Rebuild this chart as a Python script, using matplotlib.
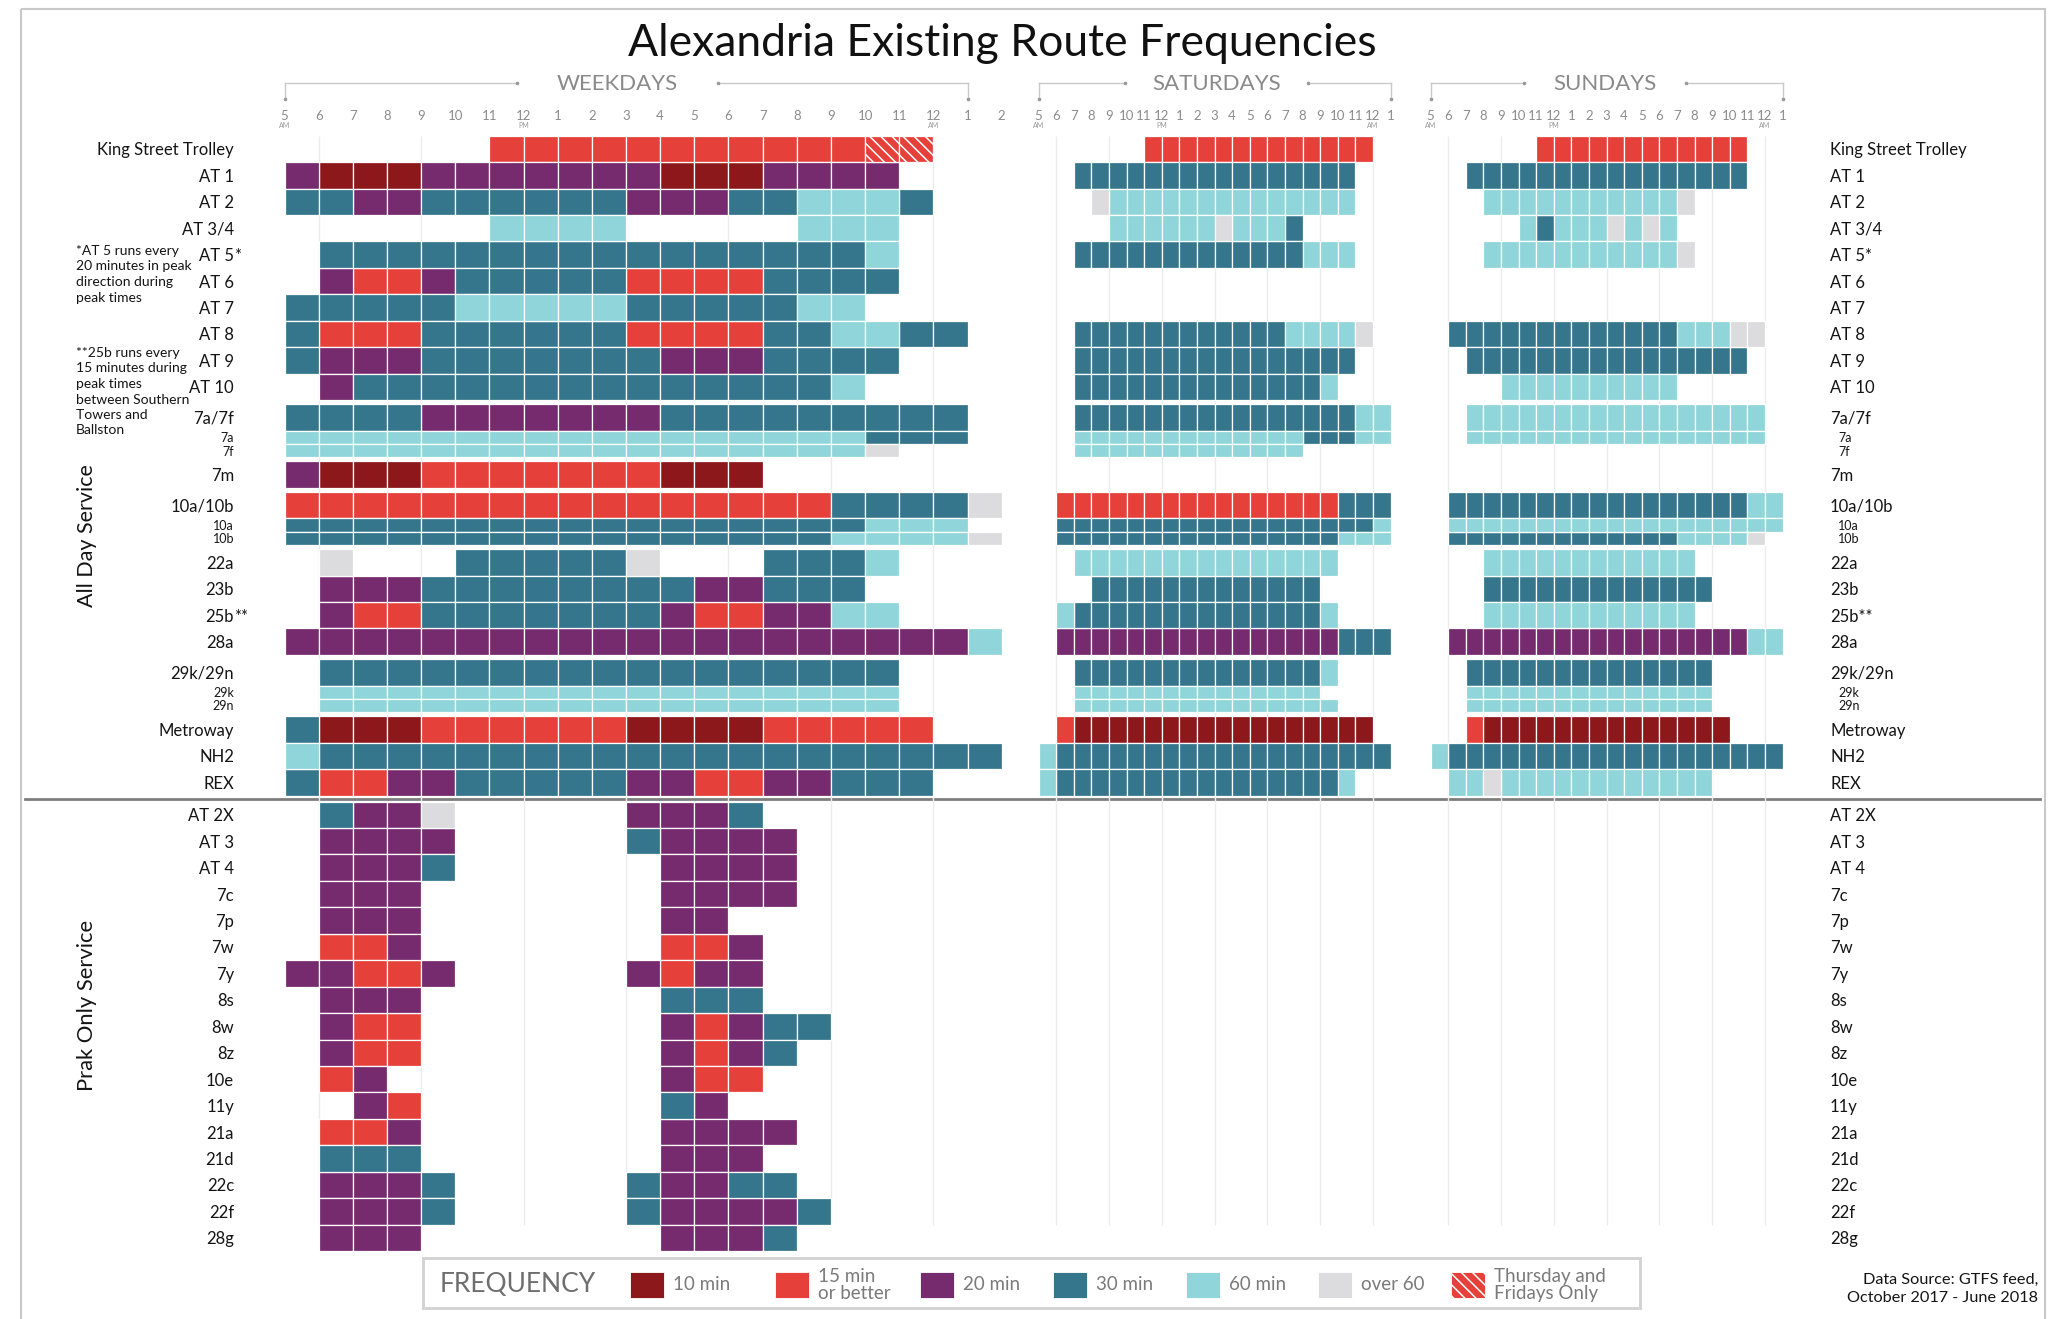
import matplotlib
matplotlib.use("Agg")
import matplotlib.pyplot as plt
from matplotlib.patches import Rectangle
from matplotlib.transforms import blended_transform_factory as blend

plt.rcParams["font.family"] = ["Lato", "DejaVu Sans"]
plt.rcParams["hatch.linewidth"] = 1.1

# --- data ---------------------------------------------------------------------
# one character per hour: 1=10 min, 2=15 min or better, 3=20 min, 4=30 min,
# 5=60 min, 6=over 60, 7=Thursday and Fridays only, '.'=no service
ALL_DAY_GROUPS = [
    ["King Street Trolley", "AT 1", "AT 2", "AT 3/4", "AT 5*", "AT 6", "AT 7",
     "AT 8", "AT 9", "AT 10"],
    ["7a/7f", "7a", "7f"],
    ["7m"],
    ["10a/10b", "10a", "10b"],
    ["22a", "23b", "25b**", "28a"],
    ["29k/29n", "29k", "29n"],
    ["Metroway", "NH2", "REX"],
]
PEAK_ONLY = ["AT 2X", "AT 3", "AT 4", "7c", "7p", "7w", "7y", "8s", "8w", "8z",
             "10e", "11y", "21a", "21d", "22c", "22f", "28g"]
SUB_ROUTES = ["7a", "7f", "10a", "10b", "29k", "29n"]

WEEKDAY_START = 5      # first cell = 5-6 AM, 21 cells
WEEKEND_START = 5      # 20 cells

WEEKDAY = {
    "King Street Trolley": "......2222222222277..",
    "AT 1":    "311133333331113333...",
    "AT 2":    "4433444444333445554..",
    "AT 3/4":  "......5555.....555...",
    "AT 5*":   ".44444444444444445...",
    "AT 6":    ".32234444422224444...",
    "AT 7":    "44444555554444455....",
    "AT 8":    "42224444442222445544.",
    "AT 9":    "433344444443334444...",
    "AT 10":   ".3444444444444445....",
    "7a/7f":   "44443333333444444444.",
    "7a":      "55555555555555555444.",
    "7f":      "555555555555555556...",
    "7m":      "31112222222111.......",
    "10a/10b": "222222222222222244446",
    "10a":     "44444444444444444555.",
    "10b":     "444444444444444455556",
    "22a":     ".6...444446...4445...",
    "23b":     ".3334444444433444....",
    "25b**":   ".32244444443223355...",
    "28a":     "333333333333333333335",
    "29k/29n": ".44444444444444444...",
    "29k":     ".55555555555555555...",
    "29n":     ".55555555555555555...",
    "Metroway": "4111222222111122222..",
    "NH2":     "544444444444444444444",
    "REX":     "4223344444332233444..",
    "AT 2X":   ".4336.....3334.......",
    "AT 3":    ".3333.....43333......",
    "AT 4":    ".3334......3333......",
    "7c":      ".333.......3333......",
    "7p":      ".333.......33........",
    "7w":      ".223.......223.......",
    "7y":      "33223.....3233.......",
    "8s":      ".333.......444.......",
    "8w":      ".322.......32344.....",
    "8z":      ".322.......3234......",
    "10e":     ".23........322.......",
    "11y":     "..32.......43........",
    "21a":     ".223.......3333......",
    "21d":     ".444.......333.......",
    "22c":     ".3334.....43344......",
    "22f":     ".3334.....433334.....",
    "28g":     ".333.......3334......",
}

SATURDAY = {
    "King Street Trolley": "......2222222222222.",
    "AT 1":    "..4444444444444444..",
    "AT 2":    "...655555555555555..",
    "AT 3/4":  "....55555565554.....",
    "AT 5*":   "..4444444444444555..",
    "AT 8":    "..44444444444455556.",
    "AT 9":    "..4444444444444444..",
    "AT 10":   "..444444444444445...",
    "7a/7f":   "..444444444444444455",
    "7a":      "..555555555555544455",
    "7f":      "..5555555555555.....",
    "10a/10b": ".2222222222222222444",
    "10a":     ".4444444444444444445",
    "10b":     ".4444444444444444555",
    "22a":     "..555555555555555...",
    "23b":     "...4444444444444....",
    "25b**":   ".5444444444444445...",
    "28a":     ".3333333333333333444",
    "29k/29n": "..444444444444445...",
    "29k":     "..55555555555555....",
    "29n":     "..555555555555555...",
    "Metroway": ".211111111111111111.",
    "NH2":     "54444444444444444444",
    "REX":     "544444444444444445..",
}

SUNDAY = {
    "King Street Trolley": "......222222222222..",
    "AT 1":    "..4444444444444444..",
    "AT 2":    "...555555555556.....",
    "AT 3/4":  ".....545556565......",
    "AT 5*":   "...555555555556.....",
    "AT 8":    ".444444444444455566.",
    "AT 9":    "..4444444444444444..",
    "AT 10":   "....5555555555......",
    "7a/7f":   "..55555555555555555.",
    "7a":      "..55555555555555555.",
    "10a/10b": ".4444444444444444455",
    "10a":     ".5555555555555555555",
    "10b":     ".444444444444455556.",
    "22a":     "...555555555555.....",
    "23b":     "...4444444444444....",
    "25b**":   "...555555555555.....",
    "28a":     ".3333333333333333355",
    "29k/29n": "..44444444444444....",
    "29k":     "..55555555555555....",
    "29n":     "..55555555555555....",
    "Metroway": "..211111111111111...",
    "NH2":     "54444444444444444444",
    "REX":     ".556555555555555....",
}

WEEKDAY_TICKS = ["5", "6", "7", "8", "9", "10", "11", "12", "1", "2", "3", "4",
                 "5", "6", "7", "8", "9", "10", "11", "12", "1", "2"]
WEEKEND_TICKS = ["5", "6", "7", "8", "9", "10", "11", "12", "1", "2", "3", "4",
                 "5", "6", "7", "8", "9", "10", "11", "12", "1"]

FREQ_CODES = ["1", "2", "3", "4", "5", "6", "7"]
FREQ_NAMES = ["10 min", "15 min\nor better", "20 min", "30 min", "60 min",
              "over 60", "Thursday and\nFridays Only"]

NOTE_AT5 = "*AT 5 runs every\n20 minutes in peak\ndirection during\npeak times"
NOTE_25B = ("**25b runs every\n15 minutes during\npeak times\nbetween Southern\n"
            "Towers and\nBallston")

COLORS = {"1": "#8c181b", "2": "#e6403a", "3": "#762b6e", "4": "#36768d",
          "5": "#90d5da", "6": "#dcdcde", "7": "#e6403a"}

for sched, n in ((WEEKDAY, 21), (SATURDAY, 20), (SUNDAY, 20)):
    for k, v in sched.items():
        assert len(v) == n, (k, len(v), n)

# --- layout -------------------------------------------------------------------
W, H = 2058, 1319
GRID_TOP, GRID_BOT = 135.7, 1251
GAP, SEP = 0.16, 0.23
INK = "#141414"

rows = []           # (label, top, height) in row units
y = 0.0
for gi, grp in enumerate(ALL_DAY_GROUPS):
    if gi:
        y += GAP
    for r in grp:
        h = 0.5 if r in SUB_ROUTES else 1.0
        rows.append((r, y, h))
        y += h
all_day_end = y
y += SEP
for r in PEAK_ONLY:
    rows.append((r, y, 1.0))
    y += 1.0
TOTAL = y

fig = plt.figure(figsize=(W / 100, H / 100), dpi=100)
over = fig.add_axes([0, 0, 1, 1])
over.set_xlim(0, W); over.set_ylim(H, 0); over.axis("off")


def panel(x0, px_per_hour, start, nhours):
    x1 = x0 + nhours * px_per_hour
    ax = fig.add_axes([x0 / W, 1 - GRID_BOT / H, (x1 - x0) / W, (GRID_BOT - GRID_TOP) / H])
    ax.set_xlim(start, start + nhours)
    ax.set_ylim(TOTAL, 0)
    ax.set_facecolor("none")
    for s in ax.spines.values():
        s.set_visible(False)
    return ax


axw = panel(284.5, 34.15, WEEKDAY_START, 21)
axs = panel(1038.5, 17.6, WEEKEND_START, 20)
axu = panel(1430.5, 17.6, WEEKEND_START, 20)


def draw_cells(ax, sched, start, ticks):
    for code in FREQ_CODES:
        xs, bots, hs = [], [], []
        for lab, top, h in rows:
            for i, c in enumerate(sched.get(lab, "")):
                if c == code:
                    xs.append(start + i); bots.append(top); hs.append(h)
        if xs:
            ax.bar(xs, hs, bottom=bots, width=1, align="edge", color=COLORS[code],
                   edgecolor="white", linewidth=0.9, zorder=2,
                   hatch="\\\\\\" if code == "7" else None)
    ax.vlines(range(6, 25, 3), 0, TOTAL - 1, color="#ebebeb", lw=1, zorder=0)
    ax.set_xticks(range(start, start + len(ticks)))
    ax.set_xticklabels(ticks)
    ax.xaxis.tick_top()
    ax.tick_params(axis="x", length=0, pad=10, labelsize=9.5, labelcolor="#8c8c8c")
    ax.set_yticks([])


draw_cells(axw, WEEKDAY, WEEKDAY_START, WEEKDAY_TICKS)
draw_cells(axs, SATURDAY, WEEKEND_START, WEEKEND_TICKS)
draw_cells(axu, SUNDAY, WEEKEND_START, WEEKEND_TICKS)

# headers with brackets
for ax, name, g0, g1 in ((axw, "WEEKDAYS", 11.8, 17.7), (axs, "SATURDAYS", 9.9, 20.3),
                         (axu, "SUNDAYS", 10.3, 19.5)):
    tb = blend(ax.transData, over.transData)
    kw = dict(transform=tb, color="#c9c9c9", lw=1, clip_on=False)
    over.plot([5, g0], [83, 83], **kw)
    over.plot([g1, 25], [83, 83], **kw)
    over.plot([5, 5], [83, 99], **kw)
    over.plot([25, 25], [83, 99], **kw)
    over.plot([5, 25, g0, g1], [99, 99, 83, 83], "o", ms=1.6, color="#999999",
              transform=tb, clip_on=False)
    over.text((g0 + g1) / 2, 84, name, transform=tb, ha="center", va="center",
              fontsize=16, color="#8a8a8a")
    for hh, t in ((5, "AM"), (12, "PM"), (24, "AM")):
        over.text(hh, 125.5, t, transform=tb, ha="center", va="center",
                  fontsize=5, color="#9a9a9a")

# row labels both sides
tl = blend(over.transData, axw.transData)
for lab, top, h in rows:
    sub = lab in SUB_ROUTES
    fs = 9 if sub else 12
    base = lab.rstrip("*")
    stars = lab[len(base):]
    yc = top + h / 2
    over.text(234, yc, base, transform=tl, ha="right", va="center_baseline",
              fontsize=fs, color=INK)
    if stars:
        over.text(234, yc, stars, transform=tl, ha="left", va="center_baseline",
                  fontsize=fs, color=INK)
    over.text(1838 if sub else 1830, yc, lab, transform=tl, ha="left",
              va="center_baseline", fontsize=fs, color=INK)

# separator between all-day and peak-only service
over.plot([25, 2040], [all_day_end + SEP / 2] * 2, transform=tl, color="#7d7d7d",
          lw=2, clip_on=False)

over.text(87, 536, "All Day Service", rotation=90, ha="center", va="center",
          fontsize=15.5, color=INK)
over.text(87, 1005, "Prak Only Service", rotation=90, ha="center", va="center",
          fontsize=15.8, color=INK)

over.text(76, 245, NOTE_AT5, ha="left", va="top", fontsize=10, color=INK,
          linespacing=1.35)
over.text(76, 347, NOTE_25B, ha="left", va="top", fontsize=10, color=INK,
          linespacing=1.35)

over.text(1002, 44, "Alexandria Existing Route Frequencies", ha="center",
          va="center", fontsize=32, color="#111111")

# frame
over.add_patch(Rectangle((20.7, 9.3), 2045 - 20.7, 1340, fill=False,
                         ec="#c8c8c8", lw=1.5, clip_on=False))

# legend
over.add_patch(Rectangle((423, 1258), 1217, 50, fill=False, ec="#d2d2d2", lw=2))
over.text(440, 1284, "FREQUENCY", ha="left", va="center", fontsize=19,
          color="#6e6e6e")
for code, name, x in zip(FREQ_CODES, FREQ_NAMES,
                         [630, 775, 920, 1053, 1186, 1318, 1451]):
    over.add_patch(Rectangle((x, 1272), 34, 26, fc=COLORS[code], ec="white",
                             lw=0.6, hatch="\\\\\\" if code == "7" else None))
    over.text(x + 43, 1285, name, ha="left", va="center", fontsize=13.5,
              color="#7a7a7a", linespacing=0.95)

over.text(2038, 1289, "Data Source: GTFS feed,\nOctober 2017 - June 2018",
          ha="right", va="center", fontsize=11.7, color=INK, linespacing=1.3)

fig.savefig("out.png", dpi=100)
